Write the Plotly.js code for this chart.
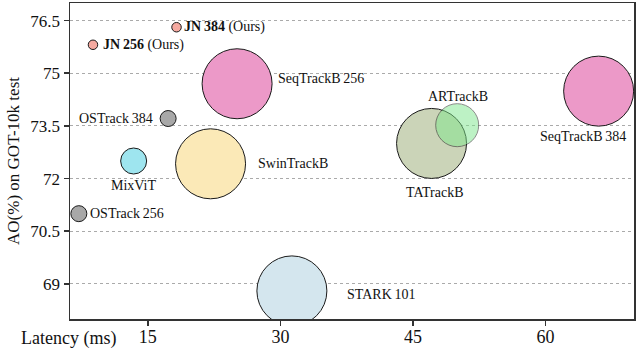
<!DOCTYPE html>
<html>
<head>
<meta charset="utf-8">
<script src="https://cdn.plot.ly/plotly-3.0.1.min.js"></script>
<style>
  html, body { margin: 0; padding: 0; background: #fff; }
  #chart { width: 636px; height: 348px; }
</style>
</head>
<body>
<div id="chart"></div>
<script>
// Trackers: latency (ms) vs AO on GOT-10k, bubble size ~ model size
const names = ['JN\u2009384', 'JN\u2009256', 'SeqTrackB\u2009256', 'OSTrack\u2009384', 'MixViT',
  'SwinTrackB', 'OSTrack\u2009256', 'STARK\u2009101', 'TATrackB', 'ARTrackB', 'SeqTrackB\u2009384'];
const latency = [18.25, 8.8, 25.1, 17.3, 13.4, 22.1, 7.2, 31.3, 47.1, 50.0, 66.0];
const ao = [76.31, 75.81, 74.7, 73.71, 72.5, 72.42, 71.0, 68.8, 73.0, 73.52, 74.49];
const bubble = [9.5, 9.5, 70, 16, 26, 70, 16, 70, 70, 43, 70];
const ours = [true, true, false, false, false, false, false, false, false, false, false];

const yTicks = [69, 70.5, 72, 73.5, 75, 76.5];
const xTicks = [15, 30, 45, 60];

// styling
const colors = ['#f5a9a0', '#f5a9a0', '#ec99c8', '#a8a8a8', '#9ee5ef',
  '#fbe9b7', '#a8a8a8', '#d4e6ee', '#cbd4b8', '#7ee68c', '#ec99c8'];
const opac = [1, 1, 1, 1, 1, 1, 1, 1, 1, 0.5, 1];
// label placement: anchor, x shift, y shift (px)
const lab = [
  ['left', 5, 0], ['left', 8, 0], ['left', 39, 5], ['right', -13, 0], ['center', 0, -24],
  ['left', 45, 0], ['left', 9, 0], ['left', 53, -4], ['center', 3, -49], ['center', 1, 29],
  ['center', -16, -45]
];

const serif = 'Liberation Serif, Times New Roman, serif';

const annotations = names.map((n, i) => ({
  x: latency[i], y: ao[i], xref: 'x', yref: 'y',
  text: ours[i] ? '<b>' + n + '</b> (Ours)' : n,
  showarrow: false,
  xanchor: lab[i][0], yanchor: 'middle',
  xshift: lab[i][1], yshift: lab[i][2],
  font: { family: serif, size: 14, color: '#111' }
}));

annotations.push({
  x: -0.002, y: 0, xref: 'paper', yref: 'paper',
  xanchor: 'center', yanchor: 'middle', yshift: -19,
  text: 'Latency (ms)', showarrow: false,
  font: { family: serif, size: 18, color: '#111' }
});

Plotly.newPlot('chart', [{
  x: latency,
  y: ao,
  mode: 'markers',
  type: 'scatter',
  hoverinfo: 'skip',
  marker: {
    size: bubble,
    sizemode: 'diameter',
    color: colors,
    opacity: opac,
    line: { color: '#1a1a1a', width: 1 }
  }
}], {
  width: 636,
  height: 348,
  margin: { l: 70, r: 2, t: 3, b: 29 },
  paper_bgcolor: '#fff',
  plot_bgcolor: '#fff',
  showlegend: false,
  font: { family: serif, size: 17, color: '#111' },
  xaxis: {
    range: [6.2, 70],
    tickvals: xTicks,
    ticks: 'outside', ticklen: 5, tickwidth: 1.5, tickcolor: '#333',
    ticklabelstandoff: -4,
    showgrid: false, zeroline: false,
    showline: true, linecolor: '#333', linewidth: 1.5, mirror: true,
    tickfont: { family: serif, size: 18, color: '#111' }
  },
  yaxis: {
    range: [68.0, 77.0],
    tickvals: yTicks,
    ticktext: yTicks.map(String),
    ticks: 'outside', ticklen: 5, tickwidth: 1.5, tickcolor: '#333',
    showgrid: true, gridcolor: '#aaa', gridwidth: 1, griddash: 'dot',
    zeroline: false,
    showline: true, linecolor: '#333', linewidth: 1.5, mirror: true,
    tickfont: { family: serif, size: 17, color: '#111' },
    title: { text: 'AO(%) on GOT-10k test', font: { family: serif, size: 17, color: '#111' }, standoff: 6 }
  },
  annotations: annotations
}, { displayModeBar: false, staticPlot: true });
</script>
</body>
</html>
